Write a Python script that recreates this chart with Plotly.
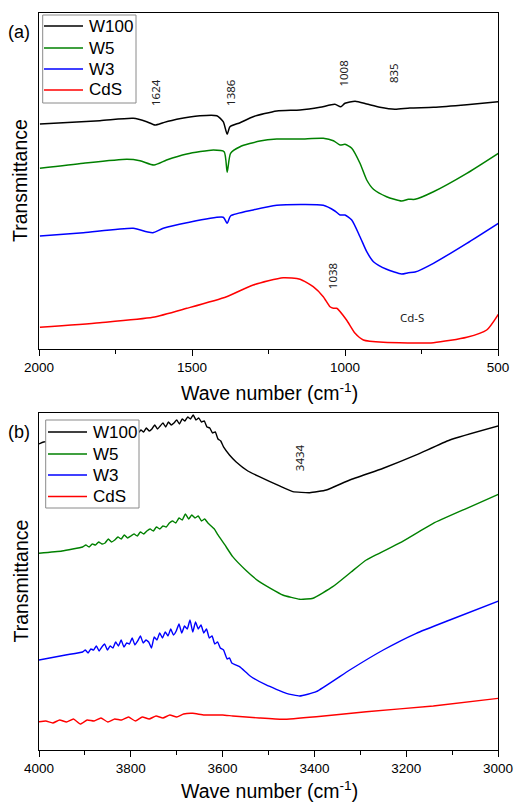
import plotly.graph_objects as go

# ---------------- Panel (a): 2000-500 cm-1 ----------------
a_w100_x = [1997, 1801, 1692, 1648, 1621, 1594, 1550, 1474, 1419, 1398, 1385, 1376, 1343, 1300,
            1223, 1147, 1082, 1033, 1014, 1000, 967, 929, 886, 837, 788, 711, 602, 499]
a_w100_y = [225, 228.3, 230.7, 227.3, 224, 226.3, 229.7, 233.3, 233.3, 227.3, 214.7, 222.3, 226.3, 232.3,
            238, 239, 241.7, 244.7, 242.3, 245.7, 247.7, 245, 241.7, 239.7, 241, 241.7, 244.3, 247.3]

a_w5_x = [1997, 1855, 1713, 1670, 1624, 1583, 1517, 1430, 1395, 1385, 1374, 1343, 1278, 1223, 1147,
          1071, 1038, 1016, 1000, 978, 951, 929, 907, 864, 815, 793, 771, 711, 602, 499]
a_w5_y = [180.7, 185.7, 189.7, 188.3, 184, 189, 195, 199, 197.3, 176.7, 195.7, 202.3, 208, 210, 210,
          210.7, 208.3, 204, 204.7, 200.7, 185.7, 169, 159.7, 152.3, 148, 149.7, 149.7, 157.3, 175.7, 195.7]

a_w3_x = [1997, 1855, 1692, 1648, 1628, 1594, 1517, 1398, 1385, 1374, 1300, 1223, 1071, 1033, 1016,
          1000, 978, 951, 929, 907, 864, 815, 793, 771, 711, 602, 499]
a_w3_y = [113, 116.3, 120.7, 117.3, 116.3, 120.7, 126.3, 131.7, 125.7, 133, 139, 143.7, 143.7, 138, 134,
          134, 129, 112.3, 97.3, 87.3, 79.7, 75, 76.3, 77, 85.7, 105.7, 125.7]

a_cds_x = [1997, 1801, 1628, 1517, 1387, 1300, 1202, 1147, 1104, 1071, 1049, 1038, 1027, 995, 967,
           940, 875, 711, 602, 537, 499]
a_cds_y = [21.7, 26.3, 31.7, 40.7, 52.3, 64, 71.3, 69.7, 62.3, 52.3, 42.3, 40.7, 40.7, 29, 15.7,
           9, 6.7, 6.3, 11.7, 19, 34.7]

# ---------------- Panel (b): 4000-3000 cm-1 ----------------
b_w100_x = [4000, 3990, 3950, 3880, 3820, 3790, 3784, 3778, 3772, 3766, 3760, 3754, 3748, 3742, 3736,
            3730, 3724, 3718, 3712, 3706, 3700, 3694, 3688, 3682, 3676, 3670, 3664, 3658, 3652, 3646,
            3640, 3634, 3628, 3622, 3616, 3610, 3604, 3598, 3585, 3571, 3545, 3520, 3476, 3447, 3410,
            3374, 3323, 3250, 3178, 3105, 2999]
b_w100_y = [306, 308, 309, 313, 316, 318, 317, 320, 318, 322, 319, 321, 325, 321, 324,
            327, 323, 328, 325, 327, 330, 326, 331, 329, 333, 331, 335, 330, 332, 328,
            329, 323, 322, 317, 318, 311, 309, 303, 295, 288.3, 279, 273.3, 264, 258.3, 257.3,
            260, 270, 281.7, 295, 310, 324]

b_w5_x = [4000, 3950, 3905, 3898, 3891, 3884, 3877, 3870, 3863, 3856, 3849, 3842, 3835, 3828, 3821,
          3814, 3807, 3800, 3793, 3786, 3779, 3772, 3765, 3758, 3751, 3744, 3737, 3730, 3723, 3716,
          3709, 3702, 3695, 3688, 3681, 3674, 3667, 3660, 3653, 3646, 3639, 3632, 3625, 3618, 3610,
          3595, 3578, 3550, 3520, 3469, 3432, 3403, 3360, 3320, 3287, 3214, 3141, 3068, 2999]
b_w5_y = [196.7, 199, 203, 205, 203, 206, 205, 208, 206, 207, 211, 208, 210, 213, 211,
          215, 212, 214, 216, 214, 218, 216, 219, 221, 219, 223, 221, 224, 223, 227,
          229, 227, 232, 230, 236, 231, 235, 232, 234, 229, 231, 227, 224, 221, 215,
          205, 193.3, 180, 168.3, 155, 150.7, 151.7, 163.3, 178, 190, 207, 226.7, 241.7, 255.7]

b_w3_x = [4000, 3942, 3905, 3899, 3893, 3887, 3881, 3875, 3869, 3863, 3857, 3851, 3845, 3839, 3833,
          3827, 3821, 3815, 3809, 3803, 3797, 3791, 3785, 3779, 3773, 3767, 3761, 3755, 3749, 3743,
          3737, 3731, 3725, 3719, 3713, 3707, 3701, 3695, 3689, 3683, 3677, 3671, 3665, 3659, 3653,
          3647, 3641, 3635, 3629, 3623, 3617, 3611, 3605, 3598, 3590, 3585, 3580, 3563, 3540, 3505,
          3461, 3432, 3396, 3323, 3250, 3178, 3105, 2999]
b_w3_y = [90, 95, 98, 100, 97, 101, 100, 104, 99, 103, 106, 100, 104, 102, 108,
          104, 110, 103, 107, 106, 112, 105, 109, 114, 107, 110, 108, 102, 113, 110,
          117, 112, 118, 114, 121, 115, 119, 126, 117, 124, 121, 130, 118, 128, 121,
          125, 117, 121, 112, 114, 106, 108, 102, 100, 91, 92, 87, 83.3, 74, 65,
          56.7, 54, 58.3, 80, 100, 116.7, 130, 149]

b_cds_x = [4000, 3985, 3970, 3955, 3940, 3925, 3910, 3895, 3880, 3865, 3850, 3835, 3820, 3805, 3790,
           3775, 3760, 3745, 3730, 3715, 3700, 3685, 3665, 3640, 3600, 3578, 3520, 3469, 3396, 3287,
           3141, 2999]
b_cds_y = [28.3, 29, 27, 30, 28, 31, 26, 30, 29, 32, 28, 31, 30, 33, 29,
           33, 31, 34, 32, 35, 33, 36, 36.7, 35, 35, 34, 32, 30.7, 33.3, 38.3,
           44, 51.7]

names = ["W100", "W5", "W3", "CdS"]
colors = ["#000000", "#008000", "#0000ff", "#ff0000"]

a_peak_labels = ["1624", "1386", "1008", "835", "1038"]
a_peak_x = [1621, 1376, 1008, 843, 1042]
a_peak_y = [257, 257, 275, 276, 73]
b_peak_labels = ["3434"]
b_peak_x = [3432]
b_peak_y = [292.5]

a_ticks = [2000, 1500, 1000, 500]
b_ticks = [4000, 3800, 3600, 3400, 3200, 3000]

fig = go.Figure()
a_series = [(a_w100_x, a_w100_y), (a_w5_x, a_w5_y), (a_w3_x, a_w3_y), (a_cds_x, a_cds_y)]
b_series = [(b_w100_x, b_w100_y), (b_w5_x, b_w5_y), (b_w3_x, b_w3_y), (b_cds_x, b_cds_y)]

for (xs, ys), n, c in zip(a_series, names, colors):
    fig.add_trace(go.Scatter(x=xs, y=ys, mode="lines", name=n, showlegend=False,
                             line=dict(color=c, width=1.5, shape="spline", smoothing=0.6),
                             xaxis="x", yaxis="y"))
for (xs, ys), n, c in zip(b_series, names, colors):
    fig.add_trace(go.Scatter(x=xs, y=ys, mode="lines", name=n, showlegend=False,
                             line=dict(color=c, width=1.4, shape="spline", smoothing=0.4),
                             xaxis="x2", yaxis="y2"))

axis_font = dict(family="Liberation Sans, Arial", size=13.5, color="black")
common_x = dict(showline=True, mirror=True, linecolor="black", linewidth=1.2,
                ticks="outside", ticklen=6, tickwidth=1, tickcolor="black", automargin=False,
                showgrid=False, zeroline=False, tickfont=axis_font)
common_y = dict(showline=True, mirror=True, linecolor="black", linewidth=1.2, automargin=False,
                showticklabels=False, ticks="", showgrid=False, zeroline=False)

dom_a = [0.5441, 1.0]
dom_b = [0.0, 0.4573]

fig.update_layout(
    width=515, height=802,
    margin=dict(l=39, r=17, t=13, b=52),
    paper_bgcolor="white", plot_bgcolor="white",
    xaxis=dict(common_x, domain=[0, 1], anchor="y", range=[2000, 500],
               tickvals=a_ticks, minor=dict(dtick=250, ticks="outside", ticklen=4, tickcolor="black")),
    yaxis=dict(common_y, domain=dom_a, anchor="x", range=[0, 336]),
    xaxis2=dict(common_x, domain=[0, 1], anchor="y2", range=[4000, 3000],
                tickvals=b_ticks, minor=dict(dtick=100, ticks="outside", ticklen=4, tickcolor="black")),
    yaxis2=dict(common_y, domain=dom_b, anchor="x2", range=[0, 337]),
    showlegend=False,
)

# ---- helper: page pixel -> paper coordinates (plot area 39..498 x 13..750) ----
def px(xp):
    return (xp - 39) / 459.0

def py(yp):
    return (750 - yp) / 737.0

ann = []
shapes = []
label_font = dict(family="Noto Sans", size=11.5, color="#222")
for t, x, y in zip(a_peak_labels, a_peak_x, a_peak_y):
    ann.append(dict(text=t, x=x, y=y, xref="x", yref="y", showarrow=False, textangle=-90,
                    xanchor="center", yanchor="middle", font=label_font))
for t, x, y in zip(b_peak_labels, b_peak_x, b_peak_y):
    ann.append(dict(text=t, x=x, y=y, xref="x2", yref="y2", showarrow=False, textangle=-90,
                    xanchor="center", yanchor="middle", font=label_font))
ann.append(dict(text="Cd-S", x=781, y=32, xref="x", yref="y", showarrow=False,
                xanchor="center", yanchor="middle", font=label_font))

title_font = dict(family="Liberation Sans, Arial", size=19.5, color="black")
for ty in [392, 790]:
    ann.append(dict(text="Wave number (cm<sup>-1</sup>)", x=px(269), y=py(ty), xref="paper", yref="paper",
                    xanchor="center", yanchor="middle", showarrow=False, font=title_font))
for ty in [181, 581.5]:
    ann.append(dict(text="Transmittance", x=px(20), y=py(ty), xref="paper", yref="paper",
                    xanchor="center", yanchor="middle", showarrow=False, textangle=-90, font=title_font))
for t, ty in [("(a)", 32), ("(b)", 432)]:
    ann.append(dict(text=t, x=px(19), y=py(ty), xref="paper", yref="paper", showarrow=False,
                    xanchor="center", yanchor="middle",
                    font=dict(family="Liberation Sans, Arial", size=18, color="black")))

# ---- legends (boxed, one per panel) ----
legend_font = dict(family="Liberation Sans, Arial", size=17, color="black")
legend_boxes = [  # (box x0, y0, x1, y1, line x0, line x1, text x, row ys) in page pixels
    (42.7, 15, 136, 103, 44, 83, 87, [26, 48, 69, 90]),
    (45.7, 420, 139, 508, 48, 87, 91, [432, 454, 475, 496.5]),
]
for bx0, by0, bx1, by1, lx0, lx1, tx, rows in legend_boxes:
    shapes.append(dict(type="rect", xref="paper", yref="paper", layer="above",
                       x0=px(bx0), x1=px(bx1), y0=py(by1), y1=py(by0),
                       line=dict(color="#8a8a8a", width=1), fillcolor="white"))
    for n, c, ry in zip(names, colors, rows):
        shapes.append(dict(type="line", xref="paper", yref="paper", layer="above",
                           x0=px(lx0), x1=px(lx1), y0=py(ry), y1=py(ry),
                           line=dict(color=c, width=1.5)))
        ann.append(dict(text=n, x=px(tx), y=py(ry), xref="paper", yref="paper", showarrow=False,
                        xanchor="left", yanchor="middle", font=legend_font))

fig.update_layout(annotations=ann, shapes=shapes)

fig.write_html("out.html")
